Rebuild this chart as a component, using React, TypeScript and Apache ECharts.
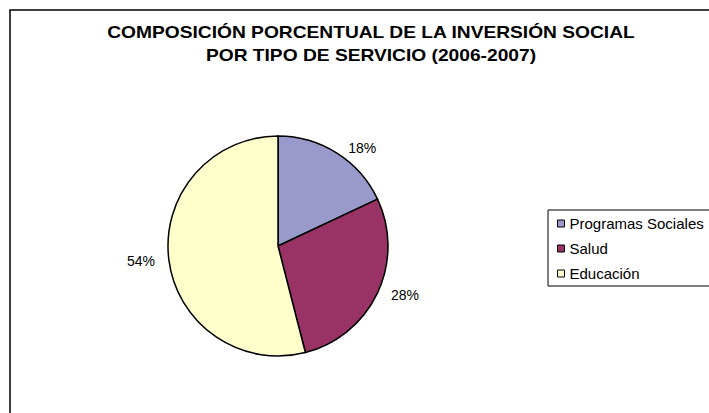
import React, { useEffect, useRef } from "react";
import * as echarts from "echarts";

const titleLines = [
  "COMPOSICIÓN PORCENTUAL DE LA INVERSIÓN SOCIAL",
  "POR TIPO DE SERVICIO (2006-2007)",
];
const categories = ["Programas Sociales", "Salud", "Educación"];
const values = [18, 28, 54];
const colors = ["#9999CC", "#993366", "#FFFFCC"];

const FONT = "'Liberation Sans', Arial, sans-serif";

export default function App() {
  const ref = useRef<HTMLDivElement>(null);
  useEffect(() => {
    document.body.style.margin = "0";
    const chart = echarts.init(ref.current!, null, { renderer: "svg" });
    chart.setOption({
      animation: false,
      backgroundColor: "#ffffff",
      graphic: [
        {
          type: "rect",
          shape: { x: 10, y: 10, width: 720, height: 420 },
          style: { fill: "none", stroke: "#000", lineWidth: 1.5 },
          silent: true,
          z: -1,
        },
        ...titleLines.map((t, i) => ({
          type: "text",
          x: 371,
          y: 33 + i * 23,
          scaleX: 1.2,
          silent: true,
          style: {
            text: t,
            fill: "#000",
            font: `bold 16px ${FONT}`,
            textAlign: "center",
            textVerticalAlign: "middle",
          },
        })),
      ],
      legend: {
        orient: "vertical",
        left: 548,
        top: 210,
        padding: [6, 40, 5, 9],
        itemGap: 10,
        itemWidth: 7,
        itemHeight: 7,
        icon: "rect",
        borderColor: "#000",
        borderWidth: 1,
        data: categories,
        textStyle: { fontFamily: FONT, fontSize: 15, color: "#000" },
        itemStyle: { borderColor: "#000", borderWidth: 1 },
      },
      series: [
        {
          type: "pie",
          center: [278, 246],
          radius: 110,
          startAngle: 90,
          clockwise: true,
          data: categories.map((c, i) => ({ name: c, value: values[i] })),
          color: colors,
          itemStyle: { borderColor: "#000", borderWidth: 1.5 },
          label: {
            show: true,
            position: "outside",
            formatter: "{d}%",
            fontFamily: FONT,
            fontSize: 14,
            color: "#000",
          },
          labelLine: { show: false, length: 6, length2: 3 },
          emphasis: { disabled: true },
        },
      ],
    });
    return () => chart.dispose();
  }, []);
  return (
    <div
      ref={ref}
      style={{ position: "fixed", left: 0, top: 0, width: 709, height: 413 }}
    />
  );
}
